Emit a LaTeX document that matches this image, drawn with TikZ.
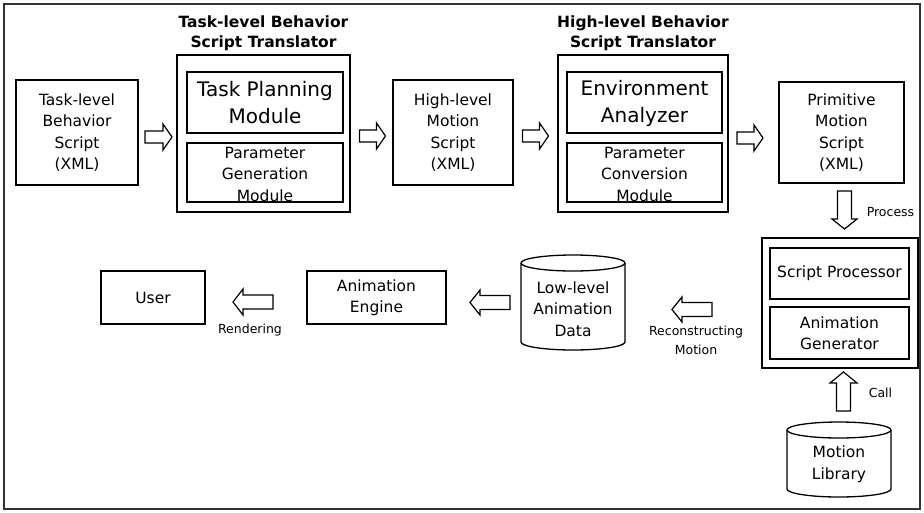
\documentclass[tikz,border=0pt]{standalone}
\usepackage{fontspec}
\setmainfont{DejaVu Sans}
\newcommand\BArrow[7]{\begin{scope}[shift={(#1,#2)},rotate=#3]
\draw[arrowline] (-#4/2,-#6/2) -- (#4/2-#7,-#6/2) -- (#4/2-#7,-#5/2) -- (#4/2,0) -- (#4/2-#7,#5/2) -- (#4/2-#7,#6/2) -- (-#4/2,#6/2) -- cycle;
\end{scope}}
\newcommand\DrawCyl[5]{%
\draw[cylline,fill=white] (#1-#4,#2+#5) -- (#1-#4,#3-#5) arc[start angle=180,end angle=360,x radius=#4pt,y radius=#5pt] -- (#1+#4,#2+#5) arc[start angle=0,end angle=180,x radius=#4pt,y radius=#5pt] -- cycle;
\draw[cylline] (#1+#4,#2+#5) arc[start angle=0,end angle=-180,x radius=#4pt,y radius=#5pt];}
\begin{document}
\begin{tikzpicture}[x=1pt,y=-1pt,
  box/.style={draw, line width=1.3pt, inner sep=0pt, align=center, font=\fontsize{15.5}{21.5}\selectfont},
  outerbox/.style={draw, line width=2.2pt, inner sep=0pt},
  txt/.style={align=center, inner sep=0pt, font=\fontsize{15.5}{21.5}\selectfont},
  bigtxt/.style={align=center, inner sep=0pt, font=\fontsize{20}{27}\selectfont},
  lbl/.style={align=center, inner sep=0pt, font=\fontsize{12.5}{19}\selectfont},
  titletxt/.style={align=center, inner sep=0pt, font=\bfseries\fontsize{15.5}{20}\selectfont},
  arrowline/.style={draw, line width=1.2pt, fill=white, line join=miter},
  cylline/.style={line width=1.3pt},
  frameline/.style={draw, line width=1.2pt, black!80}]
\useasboundingbox (0,0) rectangle (924,512);
\draw[frameline] (4,4) rectangle (920,509);

% top row
\node[box, minimum width=122pt, minimum height=105pt] (b1) at (77,132.5) {Task-level\\Behavior\\Script\\(XML)};

\node[titletxt] (t1) at (263.5,33) {Task-level Behavior\\Script Translator};
\node[outerbox, minimum width=173pt, minimum height=157pt] (tbst) at (263.5,133.5) {};
\node[box, minimum width=156pt, minimum height=61pt] (tpm) at (265,102.5) {};
\node[bigtxt] (tpmt) at (265,103) {Task Planning\\Module};
\node[box, minimum width=156pt, minimum height=59pt] (pgm) at (265,172.5) {};
\node[txt] (pgmt) at (265,174) {Parameter\\Generation\\Module};

\node[box, minimum width=120pt, minimum height=105pt] (hm) at (453,132.5) {High-level\\Motion\\Script\\(XML)};

\node[titletxt] (t2) at (643,33) {High-level Behavior\\Script Translator};
\node[outerbox, minimum width=170pt, minimum height=157pt] (hbst) at (643,133.5) {};
\node[box, minimum width=155pt, minimum height=61pt] (ea) at (644.5,102.5) {};
\node[bigtxt] (eat) at (644.5,103) {Environment\\Analyzer};
\node[box, minimum width=155pt, minimum height=59pt] (pcm) at (644.5,172.5) {};
\node[txt] (pcmt) at (644.5,174) {Parameter\\Conversion\\Module};

\node[box, minimum width=125pt, minimum height=101pt] (pm) at (841.5,132.5) {Primitive\\Motion\\Script\\(XML)};

% processor
\node[outerbox, minimum width=156pt, minimum height=130pt] (proc) at (840,303) {};
\node[box, minimum width=139pt, minimum height=51pt] (sp) at (839.5,273.5) {Script Processor};
\node[box, minimum width=139pt, minimum height=52pt] (ag) at (839.5,333) {Animation\\Generator};

% cylinders
\DrawCyl{573}{255}{350}{52}{8}
\node[txt] (lld) at (573,309) {Low-level\\Animation\\Data};
\DrawCyl{839}{422}{497}{52}{8}
\node[txt] (ml) at (839,464) {Motion\\Library};

% bottom row boxes
\node[box, minimum width=139pt, minimum height=53pt] (ae) at (376.5,297.5) {Animation\\Engine};
\node[box, minimum width=104pt, minimum height=53pt] (user) at (153,297.5) {User};

% block arrows
\BArrow{158.5}{137}{0}{27}{26}{12}{9}
\BArrow{372.5}{136}{0}{26}{26}{12}{9}
\BArrow{535.5}{136}{0}{26}{26}{12}{9}
\BArrow{750}{138}{0}{26}{26}{12}{9}
\BArrow{844.5}{210}{-90}{38}{25}{14}{10}
\BArrow{843.5}{391.5}{90}{39}{27}{14}{11}
\BArrow{692}{309.5}{180}{40}{25}{14}{10}
\BArrow{490}{302.5}{180}{40}{25}{14}{10}
\BArrow{253}{302}{180}{40}{26}{14}{10}

% labels
\node[lbl] (lp) at (890.5,212) {Process};
\node[lbl] (lc) at (880.5,393) {Call};
\node[lbl] (lr) at (250,330) {Rendering};
\node[lbl] (lrm) at (696,340.5) {Reconstructing\\Motion};
\end{tikzpicture}
\end{document}
